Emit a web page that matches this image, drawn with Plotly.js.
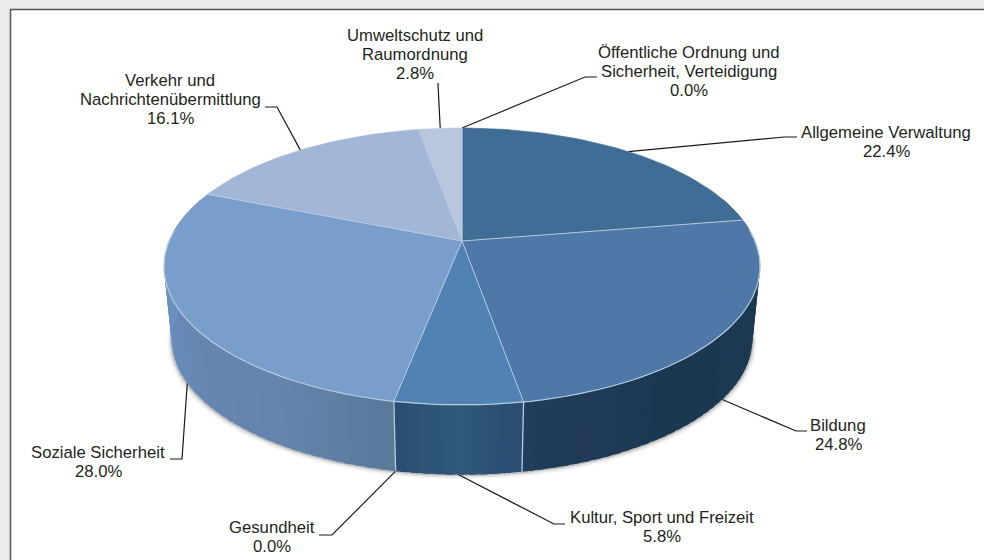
<!DOCTYPE html>
<html><head><meta charset="utf-8">
<script src="https://cdn.plot.ly/plotly-3.0.1.min.js"></script>
<style>html,body{margin:0;padding:0;background:#ebebeb;overflow:hidden}</style>
</head><body><div id="chart" style="width:984px;height:560px"></div>
<script>
// ---- data ----
const names = ["Allgemeine Verwaltung","Bildung","Kultur, Sport und Freizeit","Gesundheit","Soziale Sicherheit","Verkehr und<br>Nachrichtenübermittlung","Umweltschutz und<br>Raumordnung","Öffentliche Ordnung und<br>Sicherheit, Verteidigung"];
const values = [22.4,24.8,5.8,0.0,28.0,16.1,2.8,0.0];
// ---- styles ----
const topColors = ["#406d96","#4f77a7","#5082b3","#6a8fbd","#7a9ecb","#a2b6d8","#b8c6e0","#b8c6e0"];
const sideStops = [
  [["#1d3a52",0],["#1c3850",0.7],["#223c5c",1]],
  [["#1d3a52",0],["#1c3850",0.7],["#223c5c",1]],
  [["#2a4c70",0],["#2f587a",0.5],["#2b4e72",1]],
  [["#587a9a",0],["#587a9a",1]],
  [["#587a9a",0],["#6583ac",0.2],["#6687b2",0.45],["#6a90bf",0.7],["#6f97c6",1]],
  [["#6f97c6",0],["#6f97c6",1]],
  [["#6f97c6",0],["#6f97c6",1]],
  [["#6f97c6",0],["#6f97c6",1]]
];
const edgeColor = "#b4cbe0";
const textColor = "#231f20";
// label centres and leader elbows, in chart pixels
const labelPos = [[886,142],[838,434.5],[662,527],[272,537],[98,462],[170,99],[415,54],[689,71]];
const lineGap = 19;
const leaderStart = [[797,137],[807,431],[565,524],[319,535],[170,459],[265,107],[438,83],[597,77]];
const leaderKnee = [[784,137],[796,431],[554,524],[332,535],[182,459],[277,107],[438,84],[585,77]];
const leaderOnLower = [false,true,true,true,true,false,false,false];
// ---- projection of the pie disc ----
const cx=462, cy=241, sx=292.9, sy=133.8, k=0.184, f=0.974, lowerCy=315;
function upper(a){const t=a*Math.PI/180,u=Math.sin(t),v=Math.cos(t),w=1+k*v;return [cx+sx*u/w, cy-sy*v/w];}
function lower(a){const t=a*Math.PI/180,u=Math.sin(t),v=Math.cos(t),w=1+k*v;return [cx+f*sx*u/w, lowerCy-f*sy*v/w];}
const total=values.reduce((a,b)=>a+b,0);
let acc=0; const starts=[],ends=[];
values.forEach(v=>{starts.push(acc/total*360);acc+=v;ends.push(acc/total*360);});
function hex(c){return [1,3,5].map(i=>parseInt(c.substr(i,2),16));}
function mix(stops,p){
  for(let i=1;i<stops.length;i++){
    if(p<=stops[i][1]){
      const a=hex(stops[i-1][0]),b=hex(stops[i][0]),q=(p-stops[i-1][1])/((stops[i][1]-stops[i-1][1])||1);
      return "rgb("+a.map((c,j)=>Math.round(c+(b[j]-c)*q)).join(",")+")";
    }
  }
  return stops[stops.length-1][0];
}
const traces=[];
function poly(pts,fill,lineColor,lw){
  traces.push({type:"scatter",mode:"lines",x:pts.map(p=>p[0]),y:pts.map(p=>p[1]),fill:fill?"toself":"none",fillcolor:fill||undefined,
    line:{color:lineColor||fill,width:lw===undefined?0.6:lw,shape:"linear"},hoverinfo:"skip",showlegend:false});
}
// soft shadow under the lower rim
[[5,"rgba(120,120,120,0.08)"],[3.2,"rgba(120,120,120,0.14)"],[1.6,"rgba(110,110,110,0.30)"]].forEach(s=>{
  const pts=[];for(let a=85;a<=275;a+=2){const p=lower(a);pts.push([p[0]+(a<180?s[0]*0.4:-s[0]*0.4),p[1]+s[0]*0.4]);}
  poly(pts,null,s[1],s[0]);
});
// leader lines
values.forEach((v,i)=>{
  const mid=(starts[i]+ends[i])/2, end=leaderOnLower[i]?lower(mid):upper(mid);
  traces.push({type:"scatter",mode:"lines",x:[leaderStart[i][0],leaderKnee[i][0],end[0]],y:[leaderStart[i][1],leaderKnee[i][1],end[1]],
    line:{color:"#1a1718",width:1.2},hoverinfo:"skip",showlegend:false});
});
// side wall: each band overlaps the next, so no seams show
values.forEach((v,i)=>{
  const a0=Math.max(starts[i],70), a1=Math.min(ends[i],290);
  if(a1<=a0) return;
  const n=Math.max(1,Math.ceil((a1-a0)/2));
  for(let j=0;j<n;j++){
    const s=a0+(a1-a0)*j/n, e=j===n-1?a1:a0+(a1-a0)*(j+1.6)/n;
    const c=mix(sideStops[i],(j+0.5)/n);
    poly([upper(s),upper(e),lower(e),lower(s),upper(s)],c,c,0);
  }
});
// side wall separators
values.forEach((v,i)=>{
  if(ends[i]>100 && ends[i]<260 && v>0) poly([upper(ends[i]),lower(ends[i])],null,edgeColor,1.3);
});
// top faces
values.forEach((v,i)=>{
  if(v<=0) return;
  const pts=[[cx,cy]],n=Math.ceil((ends[i]-starts[i])/1.5);
  for(let j=0;j<=n;j++) pts.push(upper(starts[i]+(ends[i]-starts[i])*j/n));
  pts.push([cx,cy]);
  poly(pts,topColors[i]);
});
// slice separators
values.forEach((v,i)=>{
  if(v>0) poly([[cx,cy],upper(ends[i])],null,edgeColor,1);
});
// front rim highlight
{const pts=[];for(let a=85;a<=275;a+=2)pts.push(upper(a));poly(pts,null,edgeColor,1.2);}

const annotations=[];
values.forEach((v,i)=>{
  const lines=names[i].split("<br>").concat([v.toFixed(1)+"%"]);
  lines.forEach((t,j)=>annotations.push({
    x:labelPos[i][0],y:labelPos[i][1]+(j-(lines.length-1)/2)*lineGap,xref:"x",yref:"y",showarrow:false,xanchor:"center",yanchor:"middle",align:"center",
    text:t,font:{family:"Liberation Sans, Arial, sans-serif",size:16.7,color:textColor}
  }));
});
const hidden={range:[0,1],visible:false,fixedrange:true};
const layout={
  width:984,height:560,margin:{l:0,r:0,t:0,b:0},paper_bgcolor:"#ebebeb",plot_bgcolor:"#ebebeb",showlegend:false,
  xaxis:Object.assign({},hidden,{range:[0,984]}),
  yaxis:Object.assign({},hidden,{range:[560,0]}),
  shapes:[{type:"rect",layer:"below",xref:"x",yref:"y",x0:10.5,y0:9.5,x1:1000,y1:580,fillcolor:"#ffffff",line:{color:"#555555",width:1.5}}],
  annotations
};
Plotly.newPlot("chart",traces,layout,{displayModeBar:false,staticPlot:true});
</script></body></html>
